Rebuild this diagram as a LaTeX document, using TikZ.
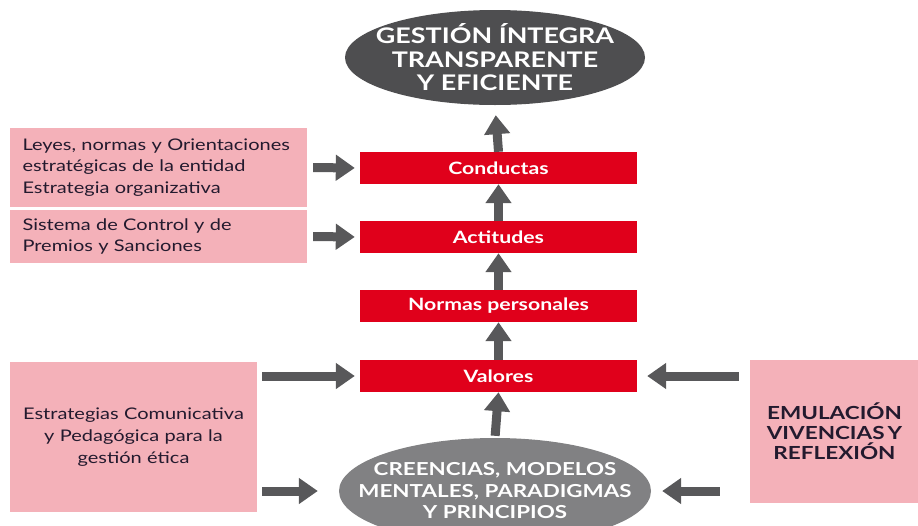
\documentclass[tikz,border=0pt]{standalone}
\usepackage{fontspec}
\setmainfont{Lato}[FakeStretch=1.25]
\usetikzlibrary{shapes.geometric,arrows.meta}
\definecolor{redbox}{HTML}{E0001B}
\definecolor{pinkbox}{HTML}{F4B1B9}
\definecolor{topgray}{HTML}{4E4E50}
\definecolor{botgray}{HTML}{818183}
\definecolor{arrgray}{HTML}{58585A}
\definecolor{darktext}{HTML}{231A2E}
\tikzset{
  redstep/.style={fill=redbox, minimum width=277, minimum height=32, inner sep=0,
    text=white, font=\bfseries\fontsize{17}{19}\selectfont},
  pinkbox/.style={fill=pinkbox, inner sep=0, text=darktext},
  oval/.style={ellipse, inner sep=0},
  ovaltext/.style={inner sep=0, text=white, align=center},
  arr/.style={draw=arrgray, line width=9, -{Triangle[width=25pt,length=19pt]}},
}
\begin{document}
\begin{tikzpicture}[x=1pt,y=-1pt]
\useasboundingbox (0,0) rectangle (918,525);
% top ellipse
\node[oval, fill=topgray, minimum width=300, minimum height=95] (top) at (495,57.5) {};
\node[ovaltext, font=\bfseries\fontsize{21.5}{23.5}\selectfont] (toptext) at (top.center)
  {GESTIÓN ÍNTEGRA\\TRANSPARENTE\\Y EFICIENTE};
% red steps
\node[redstep] (cond) at (498.5,168) {Conductas};
\node[redstep] (act) at (498.5,237) {Actitudes};
\node[redstep] (norm) at (498.5,306) {Normas personales};
\node[redstep] (val) at (498.5,376) {Valores};
% bottom ellipse
\node[oval, fill=botgray, minimum width=312, minimum height=106] (bot) at (495,491) {};
\node[ovaltext, font=\bfseries\fontsize{17.9}{21.5}\selectfont] (bottext) at (bot.center)
  {CREENCIAS, MODELOS\\MENTALES, PARADIGMAS\\Y PRINCIPIOS};
% pink boxes
\node[pinkbox, minimum width=297, minimum height=79, text width=272, align=left,
  font=\fontsize{16}{21.5}\selectfont] (leyes) at (158.5,167.5)
  {Leyes, normas y Orientaciones\\estratégicas de la entidad\\Estrategia organizativa};
\node[pinkbox, minimum width=297, minimum height=53, text width=272, align=left,
  font=\fontsize{16}{21.5}\selectfont] (sist) at (158.5,236.5)
  {Sistema de Control y de\\Premios y Sanciones};
\node[pinkbox, minimum width=247, minimum height=150, text width=240, align=center,
  font=\fontsize{16}{22}\selectfont] (estr) at (133.5,437)
  {Estrategias Comunicativa\\y Pedagógica para la\\gestión ética};
\node[pinkbox, minimum width=169, minimum height=143, text width=165, align=center,
  font=\bfseries\fontsize{18}{20}\selectfont] (emul) at (834.5,431.5)
  {EMULACIÓN\\VIVENCIAS\,Y\\REFLEXIÓN};
% vertical arrows
\draw[arr, shorten >=10] (cond.north) -- (top.south);
\draw[arr] (act.north) -- (cond.south);
\draw[arr] (norm.north) -- (act.south);
\draw[arr] (val.north) -- (norm.south);
\draw[arr, shorten <=2] (bot.north) -- (val.south);
% horizontal arrows
\draw[arr, shorten <=6, shorten >=5] (leyes.east) -- (cond.west);
\draw[arr, shorten <=6, shorten >=5] (sist.east) -- (act.west);
\draw[arr, shorten <=5, shorten >=5] (estr.east |- val.west) -- (val.west);
\draw[arr, shorten <=5, shorten >=21] (estr.east |- bot.west) -- (bot.west);
\draw[arr, shorten <=11, shorten >=10] (emul.west |- val.east) -- (val.east);
\draw[arr, shorten <=30, shorten >=11] (emul.west |- bot.east) -- (bot.east);
\end{tikzpicture}
\end{document}
